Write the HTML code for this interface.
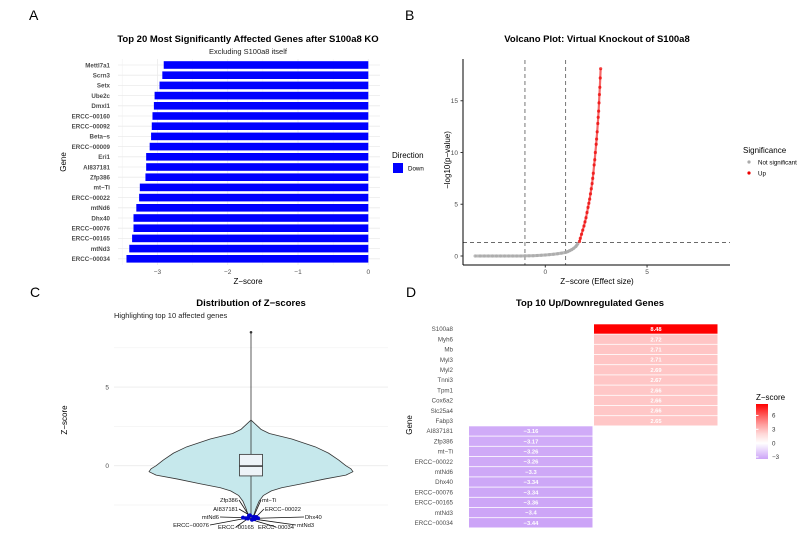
<!DOCTYPE html>
<html><head><meta charset="utf-8"><style>
html,body{margin:0;padding:0;background:#fff;}
svg{display:block;font-family:"Liberation Sans",sans-serif;}
</style></head><body>
<svg id="fig" width="809" height="537" viewBox="0 0 809 537">
<text x="29" y="20" font-size="14">A</text>
<text x="405" y="20" font-size="14">B</text>
<text x="30" y="297" font-size="14">C</text>
<text x="406" y="297" font-size="14">D</text>
<g id="pa"></g>
<g id="pb"></g>
<g id="pc"></g>
<g id="pd"></g>
</svg>
<script>
// ---- Panel A data
const aGenes = ["Mettl7a1","Scrn3","Setx","Ube2c","Dmxl1","ERCC-00160","ERCC-00092","Beta-s","ERCC-00009","Eri1","AI837181","Zfp386","mt-Ti","ERCC-00022","mtNd6","Dhx40","ERCC-00076","ERCC-00165","mtNd3","ERCC-00034"];
const aValues = [-2.91,-2.93,-2.97,-3.04,-3.05,-3.07,-3.08,-3.09,-3.11,-3.16,-3.16,-3.17,-3.25,-3.26,-3.30,-3.34,-3.34,-3.36,-3.40,-3.44];
const aTicks = [-3,-2,-1,0];
// ---- Panel B data
const bGreyZ = [-3.45,-3.2,-3.0,-2.8,-2.6,-2.4,-2.2,-2.0,-1.8,-1.6,-1.4,-1.2,-1.0,-0.8,-0.6,-0.4,-0.2,0,0.2,0.4,0.6,0.8,1.0,1.1,1.2,1.3,1.4,1.5,1.55,1.6];
const bGreyY = [0,0,0,0,0,0,0,0,0,0,0,0,0.01,0.02,0.03,0.05,0.07,0.1,0.13,0.17,0.22,0.28,0.35,0.42,0.52,0.62,0.75,0.92,1.05,1.2];
const bRedZ = [1.68,1.72,1.78,1.84,1.9,1.95,2.0,2.05,2.1,2.14,2.18,2.22,2.26,2.3,2.33,2.36,2.4,2.43,2.46,2.5,2.52,2.55,2.58,2.6,2.62,2.64,2.66,2.68,2.7,2.72];
const bRedY = [1.4,1.7,2.1,2.5,2.9,3.3,3.7,4.2,4.7,5.1,5.5,6.0,6.5,7.0,7.5,8.0,8.8,9.3,10.0,10.8,11.3,12.0,12.8,13.4,14.0,14.8,15.6,16.3,17.2,18.1];
const bXTicks = [0,5];
const bYTicks = [0,5,10,15];
// ---- Panel C data
const vZ = [2.9,2.6,2.3,2.05,1.7,1.2,0.8,0.36,0.0,-0.2,-0.38,-0.6,-0.85,-1.15,-1.4,-1.6,-1.9,-2.25,-2.7,-3.1,-3.44];
const vDens = [0,0.05,0.1,0.18,0.4,0.63,0.76,0.86,0.93,0.98,1.0,0.93,0.72,0.5,0.3,0.2,0.12,0.08,0.05,0.03,0];
const boxStats = [-0.65,-0.02,0.72,-3.44,2.9,8.48]; // q1, median, q3, whiskerLow, whiskerHigh, outlier
const cTicks = [0,5];
const cGrid = [-2.5,0,2.5,5,7.5];
const topGenes = ["Zfp386","mt-Ti","AI837181","ERCC-00022","mtNd6","Dhx40","ERCC-00076","ERCC-00165","ERCC-00034","mtNd3"];
const topValues = [-3.17,-3.25,-3.16,-3.26,-3.30,-3.34,-3.34,-3.36,-3.44,-3.40];
const topJitter = [-0.2,0.25,-0.1,0.5,-0.8,0.7,-0.5,-0.3,0.1,0.35];
// ---- Panel D data
const dGenes = ["S100a8","Myh6","Mb","Myl3","Myl2","Tnni3","Tpm1","Cox6a2","Slc25a4","Fabp3","AI837181","Zfp386","mt-Ti","ERCC-00022","mtNd6","Dhx40","ERCC-00076","ERCC-00165","mtNd3","ERCC-00034"];
const dValues = [8.48,2.72,2.71,2.71,2.69,2.67,2.66,2.66,2.66,2.65,-3.16,-3.17,-3.26,-3.26,-3.3,-3.34,-3.34,-3.36,-3.4,-3.44];
const dLabels = ["8.48","2.72","2.71","2.71","2.69","2.67","2.66","2.66","2.66","2.65","-3.16","-3.17","-3.26","-3.26","-3.3","-3.34","-3.34","-3.36","-3.4","-3.44"];
const dLegTicks = [6,3,0,-3];

const NS="http://www.w3.org/2000/svg";
function mk(parent,tag,attrs,txt){const e=document.createElementNS(NS,tag);for(const k in attrs)e.setAttribute(k,attrs[k]);if(txt!==undefined)e.textContent=txt;parent.appendChild(e);return e;}

// ================= Panel A
(function(){
const g=document.getElementById('pa');
const xA=z=>368.3+z*70.3, yA=i=>65+i*10.2;
let t;
t=mk(g,'text',{x:248,y:42,'font-size':9.5,'font-weight':'bold','text-anchor':'middle'},'Top 20 Most Significantly Affected Genes after S100a8 KO');

t=mk(g,'text',{x:248,y:54,'font-size':7.5,'text-anchor':'middle',fill:'#222'},'Excluding S100a8 itself');

[-3.5,-2.5,-1.5,-0.5].forEach(v=>{const l=mk(g,'line',{x1:xA(v),x2:xA(v),y1:59,y2:265,stroke:'#f3f3f3','stroke-width':0.6});});
aGenes.forEach((n,i)=>{const l=mk(g,'line',{x1:118,x2:380,y1:yA(i),y2:yA(i),stroke:'#ebebeb','stroke-width':0.8});});
aTicks.forEach(v=>{const l=mk(g,'line',{x1:xA(v),x2:xA(v),y1:59,y2:265,stroke:'#ebebeb','stroke-width':0.8});
 const tx=mk(g,'text',{x:xA(v),y:274,'font-size':6.5,'text-anchor':'middle',fill:'#4d4d4d'},v<0?'\u2212'+Math.abs(v):String(v));});
aGenes.forEach((n,i)=>{
 const v=aValues[i];
 const r=mk(g,'rect',{x:xA(v),y:yA(i)-3.8,width:xA(0)-xA(v),height:7.6,fill:'#0000ff'});
 
 const tx=mk(g,'text',{x:110,y:yA(i)+2.3,'font-size':6.2,'text-anchor':'end',fill:'#4d4d4d','font-weight':'bold'},n.replace('-','\u2212'));
 
});
t=mk(g,'text',{x:248,y:284,'font-size':8,'text-anchor':'middle'},'Z\u2212score');
t=mk(g,'text',{x:0,y:0,'font-size':8,'text-anchor':'middle',transform:'translate(66,162) rotate(-90)'},'Gene');
t=mk(g,'text',{x:392,y:158,'font-size':8},'Direction');
t=mk(g,'rect',{x:393,y:163,width:10,height:10,fill:'#0000ff'});
t=mk(g,'text',{x:408,y:170.5,'font-size':6.2},'Down');
})();

// ================= Panel B
(function(){
const g=document.getElementById('pb');
const xB=z=>545.3+z*20.35, yB=v=>256-v*10.35;
let t;
t=mk(g,'text',{x:597,y:42,'font-size':9.5,'font-weight':'bold','text-anchor':'middle'},'Volcano Plot: Virtual Knockout of S100a8');
[-1,1].forEach(v=>{const l=mk(g,'line',{x1:xB(v),x2:xB(v),y1:60,y2:265,stroke:'#555','stroke-width':0.8,'stroke-dasharray':'4,3'});});
t=mk(g,'line',{x1:463,x2:730,y1:yB(1.3),y2:yB(1.3),stroke:'#555','stroke-width':0.8,'stroke-dasharray':'4,3'});
t=mk(g,'polyline',{points:bGreyZ.map((z,i)=>xB(z)+','+yB(bGreyY[i])).join(' '),fill:'none',stroke:'#aaaaaa','stroke-width':3,'stroke-opacity':0.8});
bGreyZ.forEach((z,i)=>{const c=mk(g,'circle',{cx:xB(z),cy:yB(bGreyY[i]),r:1.6,fill:'#aaaaaa','fill-opacity':0.8});});
t=mk(g,'polyline',{points:bRedZ.map((z,i)=>xB(z)+','+yB(bRedY[i])).join(' '),fill:'none',stroke:'#ee0000','stroke-width':2.2,'stroke-opacity':0.6});
bRedZ.forEach((z,i)=>{const c=mk(g,'circle',{cx:xB(z),cy:yB(bRedY[i]),r:1.6,fill:'#ee0000','fill-opacity':0.7});});
t=mk(g,'line',{x1:463,x2:463,y1:59,y2:265,stroke:'#000','stroke-width':1});
t=mk(g,'line',{x1:463,x2:730,y1:265,y2:265,stroke:'#000','stroke-width':1});
bXTicks.forEach(v=>{const l=mk(g,'line',{x1:xB(v),x2:xB(v),y1:265,y2:267.5,stroke:'#333'});
 const tx=mk(g,'text',{x:xB(v),y:274,'font-size':6.5,'text-anchor':'middle',fill:'#4d4d4d'},String(v));});
bYTicks.forEach(v=>{const l=mk(g,'line',{x1:460.5,x2:463,y1:yB(v),y2:yB(v),stroke:'#333'});
 const tx=mk(g,'text',{x:458,y:yB(v)+2.3,'font-size':6.5,'text-anchor':'end',fill:'#4d4d4d'},String(v));});
t=mk(g,'text',{x:597,y:284,'font-size':8,'text-anchor':'middle'},'Z\u2212score (Effect size)');
t=mk(g,'text',{x:0,y:0,'font-size':8,'text-anchor':'middle',transform:'translate(450,160) rotate(-90)'},'\u2212log10(p\u2212value)');
t=mk(g,'text',{x:743,y:153,'font-size':8},'Significance');
t=mk(g,'circle',{cx:749,cy:162,r:1.6,fill:'#aaaaaa'});
t=mk(g,'text',{x:758,y:164.3,'font-size':6.2},'Not significant');
t=mk(g,'circle',{cx:749,cy:173,r:1.6,fill:'#ee0000'});
t=mk(g,'text',{x:758,y:175.3,'font-size':6.2},'Up');
})();

// ================= Panel C
(function(){
const g=document.getElementById('pc');
const yC=z=>465.7-z*15.73, cx=251, wMax=102, jx=10;
let t;
t=mk(g,'text',{x:251,y:306,'font-size':9.5,'font-weight':'bold','text-anchor':'middle'},'Distribution of Z\u2212scores');
t=mk(g,'text',{x:114,y:318,'font-size':7.5,fill:'#222'},'Highlighting top 10 affected genes');
cGrid.forEach(v=>{const l=mk(g,'line',{x1:114,x2:388,y1:yC(v),y2:yC(v),stroke:cTicks.includes(v)?'#ebebeb':'#f3f3f3','stroke-width':0.8});});
cTicks.forEach(v=>{const tx=mk(g,'text',{x:109,y:yC(v)+2.3,'font-size':6.5,'text-anchor':'end',fill:'#4d4d4d'},String(v));});
let pts=vZ.map((z,i)=>(cx-vDens[i]*wMax)+','+yC(z));
pts=pts.concat(vZ.slice().reverse().map((z,i)=>(cx+vDens[vDens.length-1-i]*wMax)+','+yC(z)));
t=mk(g,'polygon',{points:pts.join(' '),fill:'#c6e8ec',stroke:'#333','stroke-width':0.8,'stroke-linejoin':'round'});
t=mk(g,'line',{x1:cx,x2:cx,y1:yC(boxStats[5]),y2:yC(boxStats[3]),stroke:'#333','stroke-width':0.8});
t=mk(g,'rect',{x:cx-11.5,y:yC(boxStats[2]),width:23,height:yC(boxStats[0])-yC(boxStats[2]),fill:'#eef3f8',stroke:'#333','stroke-width':0.8});
t=mk(g,'line',{x1:cx-11.5,x2:cx+11.5,y1:yC(boxStats[1]),y2:yC(boxStats[1]),stroke:'#222','stroke-width':1.4});
t=mk(g,'circle',{cx:cx,cy:yC(boxStats[5]),r:1.3,fill:'#333'});
const lab=[[238,502,'end'],[262,502,'start'],[238,511,'end'],[265,511,'start'],[219,519,'end'],[305,519,'start'],[209,527,'end'],[236,529,'middle'],[276,529,'middle'],[297,527,'start']];
topGenes.forEach((n,i)=>{const px=cx+topJitter[i]*jx, py=yC(topValues[i]);
 const L=lab[i]; const ex=L[2]==='end'?L[0]+1:(L[2]==='start'?L[0]-1:L[0]);
 const l=mk(g,'line',{x1:px,y1:py,x2:ex,y2:L[1]-2,stroke:'#111','stroke-width':0.8});});
topGenes.forEach((n,i)=>{const c=mk(g,'circle',{cx:cx+topJitter[i]*jx,cy:yC(topValues[i]),r:2,fill:'#0000cc'});
 const L=lab[i];const tx=mk(g,'text',{x:L[0],y:L[1],'font-size':5.8,'text-anchor':L[2],fill:'#111'},n.replace('-','\u2212'));});
t=mk(g,'text',{x:0,y:0,'font-size':8,'text-anchor':'middle',transform:'translate(67,420) rotate(-90)'},'Z\u2212score');
})();

// ================= Panel D
(function(){
const g=document.getElementById('pd');
const yD=i=>329+i*10.2, lo=-3.44, hi=8.48;
const low=[204,164,247], high=[255,0,0];
function col(v){let c,f;if(v<0){f=Math.min(1,v/lo);c=low;}else{f=Math.pow(Math.min(1,v/hi),1.3);c=high;}
 const m=[255,255,255].map((w,k)=>Math.round(w+(c[k]-w)*f));return 'rgb('+m.join(',')+')';}
let t;
t=mk(g,'text',{x:590,y:306,'font-size':9.5,'font-weight':'bold','text-anchor':'middle'},'Top 10 Up/Downregulated Genes');
dGenes.forEach((n,i)=>{const v=dValues[i]; const x0=v>=0?594:469;
 const r=mk(g,'rect',{x:x0,y:yD(i)-4.7,width:123.5,height:9.4,fill:col(v)});
 const tv=mk(g,'text',{x:x0+62,y:yD(i)+2.1,'font-size':5.8,'text-anchor':'middle',fill:'#fff','font-weight':'bold'},dLabels[i].replace('-','\u2212'));
 const tx=mk(g,'text',{x:453,y:yD(i)+2.2,'font-size':6.2,'text-anchor':'end',fill:'#4d4d4d'},n.replace('-','\u2212'));});
t=mk(g,'text',{x:0,y:0,'font-size':8,'text-anchor':'middle',transform:'translate(412,425) rotate(-90)'},'Gene');
t=mk(g,'text',{x:756,y:400,'font-size':8},'Z\u2212score');
const defs=mk(g,'defs',{});const lg=mk(defs,'linearGradient',{id:'cb',x1:0,y1:1,x2:0,y2:0});
[lo,-1.5,0,2,4,6,hi].forEach(v=>mk(lg,'stop',{offset:(v-lo)/(hi-lo),'stop-color':col(v)}));
const yL=v=>459-(v-lo)*(55/(hi-lo));
t=mk(g,'rect',{x:756,y:404,width:12,height:55,fill:'url(#cb)'});
dLegTicks.forEach(v=>{const l=mk(g,'line',{x1:756,x2:758.5,y1:yL(v),y2:yL(v),stroke:'#fff'});
 const tx=mk(g,'text',{x:772,y:yL(v)+2.2,'font-size':6.2,fill:'#333'},v<0?'\u2212'+Math.abs(v):String(v));});
})();
</script>
</body></html>
